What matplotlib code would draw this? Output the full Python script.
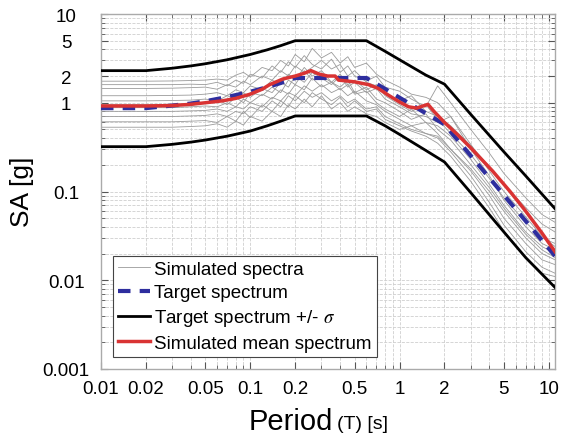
import matplotlib
matplotlib.use('Agg')
import matplotlib.pyplot as plt
from matplotlib.ticker import FixedLocator, FixedFormatter, LogLocator, NullFormatter

plt.rcParams['font.family'] = ['Liberation Sans', 'DejaVu Sans']
plt.rcParams['mathtext.fontset'] = 'stix'

# target spectrum and +/- sigma bounds
T_target = [0.01, 0.02, 0.03, 0.04, 0.05, 0.07, 0.1, 0.13, 0.16, 0.2, 0.4, 0.6,
            0.8, 1.0, 1.5, 2.0, 3.0, 5.0, 7.0, 11.0]
sa_target = [0.87, 0.87, 0.93, 0.98, 1.04, 1.16, 1.33, 1.5, 1.67, 1.9, 1.9, 1.9,
             1.43, 1.14, 0.76, 0.57, 0.253, 0.091, 0.0465, 0.0188]
sa_upper = [2.3, 2.3, 2.45, 2.6, 2.75, 3.05, 3.5, 3.95, 4.4, 5.0, 5.0, 5.0,
            3.8, 3.05, 2.05, 1.62, 0.74, 0.28, 0.15, 0.064]
sa_lower = [0.32, 0.32, 0.34, 0.36, 0.38, 0.42, 0.48, 0.55, 0.62, 0.71, 0.71, 0.71,
            0.55, 0.44, 0.29, 0.215, 0.097, 0.035, 0.018, 0.0083]

# simulated mean spectrum
T_mean = [0.01, 0.02, 0.03, 0.04, 0.05, 0.065, 0.08, 0.1, 0.12, 0.135, 0.165, 0.2,
          0.23, 0.255, 0.29, 0.33, 0.37, 0.39, 0.5, 0.62, 0.72, 0.84, 1.0, 1.15,
          1.3, 1.55, 1.7, 2.0, 2.47, 3.0, 4.2, 5.5, 6.9, 9.0, 11.0]
sa_mean = [0.92, 0.92, 0.93, 0.96, 1.0, 1.05, 1.12, 1.25, 1.42, 1.6, 1.85, 2.0,
           2.15, 2.3, 2.1, 2.0, 2.0, 1.8, 1.72, 1.6, 1.45, 1.22, 1.02, 0.9,
           0.87, 0.96, 0.8, 0.6, 0.43, 0.31, 0.17, 0.1, 0.062, 0.034, 0.021]

# simulated spectra
T_sim = [0.01, 0.02, 0.03, 0.04, 0.05, 0.06, 0.07, 0.08, 0.09, 0.1, 0.12, 0.14,
         0.16, 0.18, 0.2, 0.23, 0.26, 0.3, 0.35, 0.4, 0.45, 0.5, 0.6, 0.7,
         0.8, 1.0, 1.2, 1.5, 1.8, 2.2, 3.0, 4.0, 5.0, 7.0, 9.0, 11.0]
sim_1 = [1.75, 1.75, 1.76, 1.78, 1.8, 1.85, 1.8, 2.05, 2.2, 1.95, 2.5, 2.3,
         3.0, 2.6, 3.5, 2.9, 4.1, 3.2, 3.7, 2.8, 3.3, 2.5, 2.8, 2.1,
         1.8, 1.5, 1.25, 1.15, 1.0, 0.7, 0.34, 0.17, 0.1, 0.052, 0.031, 0.024]
sim_2 = [1.6, 1.6, 1.6, 1.62, 1.6, 1.7, 1.55, 1.8, 1.65, 2.1, 1.9, 2.6,
         2.2, 2.9, 2.5, 3.4, 2.7, 2.4, 3.1, 2.2, 2.6, 2.0, 1.75, 2.0,
         1.5, 1.35, 1.1, 0.9, 1.55, 1.0, 0.5, 0.27, 0.16, 0.085, 0.055, 0.045]
sim_3 = [1.45, 1.45, 1.46, 1.48, 1.5, 1.42, 1.6, 1.5, 1.75, 1.6, 2.0, 1.8,
         2.3, 2.0, 2.6, 2.2, 2.5, 3.0, 2.4, 2.7, 2.0, 2.3, 1.7, 1.55,
         1.3, 1.05, 1.2, 0.8, 0.7, 0.55, 0.33, 0.19, 0.12, 0.066, 0.043, 0.035]
sim_4 = [1.2, 1.2, 1.21, 1.22, 1.25, 1.3, 1.2, 1.4, 1.3, 1.55, 1.4, 1.8,
         1.6, 2.1, 1.8, 2.5, 2.0, 2.3, 1.7, 2.1, 1.6, 1.8, 1.4, 1.6,
         1.2, 0.95, 0.8, 0.95, 0.65, 0.45, 0.26, 0.14, 0.085, 0.045, 0.03, 0.026]
sim_5 = [1.05, 1.05, 1.06, 1.07, 1.1, 1.05, 1.2, 1.1, 1.3, 1.15, 1.45, 1.3,
         1.7, 1.5, 2.0, 1.7, 2.2, 1.9, 1.6, 2.0, 1.5, 1.7, 1.3, 1.45,
         1.1, 0.9, 0.75, 0.7, 0.6, 0.7, 0.3, 0.15, 0.08, 0.04, 0.026, 0.022]
sim_6 = [0.95, 0.95, 0.96, 0.98, 1.0, 1.1, 0.95, 1.15, 1.0, 1.3, 1.2, 1.5,
         1.3, 1.8, 1.6, 2.3, 1.8, 2.0, 1.7, 1.5, 1.8, 1.3, 1.5, 1.1,
         1.0, 0.8, 0.65, 0.75, 0.5, 0.38, 0.2, 0.11, 0.065, 0.033, 0.022, 0.018]
sim_7 = [0.88, 0.88, 0.88, 0.9, 0.92, 0.9, 1.0, 0.9, 1.1, 1.0, 1.25, 1.1,
         1.4, 1.25, 1.6, 1.4, 1.9, 1.5, 1.7, 1.4, 1.6, 1.25, 1.35, 1.0,
         0.85, 0.7, 0.85, 0.6, 0.55, 0.42, 0.23, 0.12, 0.07, 0.035, 0.024, 0.02]
sim_8 = [0.8, 0.8, 0.8, 0.81, 0.82, 0.85, 0.8, 0.9, 0.85, 1.0, 0.9, 1.15,
         1.05, 1.3, 1.2, 1.55, 1.35, 1.6, 1.3, 1.45, 1.2, 1.35, 1.05, 0.95,
         0.8, 0.65, 0.55, 0.6, 0.45, 0.3, 0.17, 0.09, 0.05, 0.026, 0.017, 0.015]
sim_9 = [0.7, 0.7, 0.7, 0.71, 0.72, 0.75, 0.7, 0.8, 0.75, 0.9, 0.8, 1.05,
         0.9, 1.2, 1.05, 1.35, 1.15, 1.3, 1.05, 1.2, 1.0, 1.1, 0.85, 0.9,
         0.7, 0.58, 0.5, 0.45, 0.4, 0.28, 0.15, 0.075, 0.042, 0.021, 0.014, 0.012]
sim_10 = [0.61, 0.61, 0.61, 0.62, 0.63, 0.6, 0.7, 0.62, 0.8, 0.68, 0.95, 0.8,
          1.05, 0.9, 1.2, 1.0, 1.3, 1.1, 0.95, 1.15, 0.9, 1.05, 0.8, 0.85,
          0.65, 0.55, 0.48, 0.42, 0.35, 0.25, 0.13, 0.065, 0.036, 0.018, 0.012, 0.011]
sim_11 = [0.53, 0.53, 0.53, 0.54, 0.55, 0.58, 0.53, 0.62, 0.56, 0.7, 0.62, 0.8,
          0.7, 0.95, 0.85, 1.1, 0.9, 1.2, 0.85, 1.0, 0.8, 0.9, 0.75, 0.7,
          0.6, 0.5, 0.55, 0.45, 0.42, 0.3, 0.18, 0.1, 0.06, 0.03, 0.02, 0.017]
sims = [sim_1, sim_2, sim_3, sim_4, sim_5, sim_6, sim_7, sim_8, sim_9, sim_10, sim_11]

x_ticks = [0.01, 0.02, 0.05, 0.1, 0.2, 0.5, 1, 2, 5, 10]
x_ticklabels = ['0.01', '0.02', '0.05', '0.1', '0.2', '0.5', '1', '2', '5', '10']
y_ticks = [0.001, 0.01, 0.1, 1, 2, 5, 10]
y_ticklabels = ['0.001', '0.01', '0.1', '1', '2', '5', '10']

fig = plt.figure(figsize=(5.61, 4.35), dpi=100)
ax = fig.add_axes([101/561, 65/435, 454/561, 355/435])

for i, s in enumerate(sims):
    ax.plot(T_sim, s, color='#9a9a9a', lw=0.6,
            label='Simulated spectra' if i == 0 else None, zorder=2)
ax.plot(T_target, sa_target, color='#2e2e9e', lw=3, dashes=(3, 2.2),
        label='Target spectrum', zorder=4)
ax.plot(T_target, sa_upper, color='black', lw=2, label='Target spectrum +/- $\\sigma$', zorder=3)
ax.plot(T_target, sa_lower, color='black', lw=2, zorder=3)
ax.plot(T_mean, sa_mean, color='#d93333', lw=2.5, label='Simulated mean spectrum', zorder=5)

ax.set_xscale('log')
ax.set_yscale('log')
ax.set_xlim(0.01, 11)
ax.set_ylim(0.001, 10)

ax.xaxis.set_major_locator(FixedLocator(x_ticks))
ax.xaxis.set_major_formatter(FixedFormatter(x_ticklabels))
ax.xaxis.set_minor_locator(LogLocator(subs=range(2, 10)))
ax.xaxis.set_minor_formatter(NullFormatter())
ax.yaxis.set_major_locator(FixedLocator(y_ticks))
ax.yaxis.set_major_formatter(FixedFormatter(y_ticklabels))
ax.yaxis.set_minor_locator(LogLocator(subs=range(2, 10)))
ax.yaxis.set_minor_formatter(NullFormatter())

ax.grid(which='both', color='#cfcfcf', linestyle='--', linewidth=0.6, zorder=0)
ax.tick_params(which='both', direction='in', top=True, right=True,
               color='#555555', labelsize=13.5)
ax.tick_params(which='major', length=5)
ax.tick_params(which='minor', length=3)
ax.tick_params(axis='x', pad=8)
ax.tick_params(axis='y', pad=25)
for lbl in ax.get_yticklabels():
    lbl.set_horizontalalignment('center')
for sp in ax.spines.values():
    sp.set_color('#aaaaaa')
    sp.set_linewidth(1.0)

leg = ax.legend(loc='lower left', bbox_to_anchor=(12/454, 12/355), borderaxespad=0,
                fontsize=13.5, frameon=True, fancybox=False, framealpha=1,
                edgecolor='#444444', handlelength=1.7, handletextpad=0.2,
                labelspacing=0.33, borderpad=0.28)
leg.get_frame().set_linewidth(0.8)

fig.text(333/561, 1 - 430/435, 'Period', fontsize=21, ha='right', va='baseline')
fig.text(337/561, 1 - 429/435, '(T) [s]', fontsize=14, ha='left', va='baseline')
fig.text(22/561, 1 - 192/435, 'SA [g]', fontsize=19, rotation=90, ha='center', va='center')

fig.savefig('out.png', dpi=100)
